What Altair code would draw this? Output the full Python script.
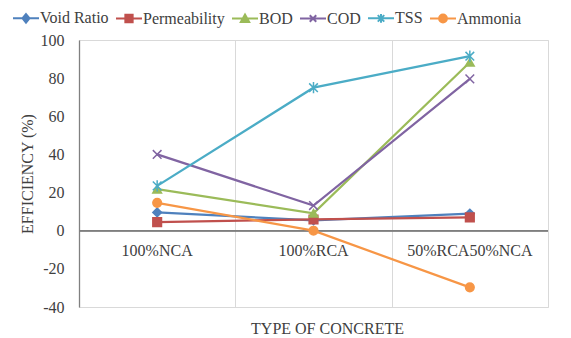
import altair as alt
import pandas as pd

categories = ["100%NCA", "100%RCA", "50%RCA50%NCA"]
series = ["Void Ratio", "Permeability", "BOD", "COD", "TSS", "Ammonia"]
void_ratio = [9.6, 5.4, 9.0]
permeability = [4.5, 5.9, 7.0]
bod = [21.8, 9.1, 88.3]
cod = [40.0, 13.2, 79.6]
tss = [23.5, 75.0, 91.5]
ammonia = [14.6, 0.0, -29.7]
y_ticks = [-40, -20, 0, 20, 40, 60, 80, 100]

colors = ["#4F81BD", "#C0504D", "#9BBB59", "#8064A2", "#4BACC6", "#F79646"]
shapes = [
    "M0,-1L1,0L0,1L-1,0Z",
    "square",
    "triangle-up",
    "M-1,-1L1,1M-1,1L1,-1",
    "M-1,-1L1,1M-1,1L1,-1M0,-1.3V1.3",
    "circle",
]
legend_paths = [
    "M-1,0H1M0,-0.33L0.27,0L0,0.33L-0.27,0Z",
    "M-1,0H1M-0.28,-0.28H0.28V0.28H-0.28Z",
    "M-1,0H1M0,-0.3L0.32,0.26H-0.32Z",
    "M-1,0H1M-0.25,-0.25L0.25,0.25M-0.25,0.25L0.25,-0.25",
    "M-1,0H1M-0.25,-0.25L0.25,0.25M-0.25,0.25L0.25,-0.25M0,-0.33V0.33",
    "M-1,0H1M-0.3,0A0.3,0.3 0 1,1 0.3,0A0.3,0.3 0 1,1 -0.3,0Z",
]

values = [void_ratio, permeability, bod, cod, tss, ammonia]
rows = []
for s, vals in zip(series, values):
    for c, v in zip(categories, vals):
        rows.append({"category": c, "series": s, "value": v})
df = pd.DataFrame(rows)
cat_df = pd.DataFrame({"category": categories})

FONT = "Liberation Serif"
TXT = "#404040"

x_scale = alt.Scale(type="band", domain=categories, paddingInner=0, paddingOuter=0)
y_scale = alt.Scale(domain=[-40, 100], nice=False, zero=False)

x_axis = alt.Axis(
    title="TYPE OF CONCRETE",
    grid=True,
    tickBand="extent",
    gridColor="#d9d9d9",
    gridWidth=1,
    labels=False,
    ticks=False,
    domain=False,
    titleFont=FONT,
    titleFontSize=16,
    titleFontWeight="normal",
    titleColor=TXT,
    titleX=248,
    titleY=21,
    titleAlign="center",
    titleBaseline="middle",
)
y_axis = alt.Axis(
    title="EFFICIENCY (%)",
    values=y_ticks,
    labelExpr="datum.value + ''",
    labelOverlap=False,
    labelBound=False,
    labelFlush=False,
    grid=False,
    ticks=False,
    domain=True,
    domainColor="#808080",
    domainWidth=1.3,
    labelPadding=15,
    labelFont=FONT,
    labelFontSize=16,
    labelColor=TXT,
    titleFont=FONT,
    titleFontSize=16,
    titleFontWeight="normal",
    titleColor=TXT,
    titleX=-52,
    titleAlign="center",
    titleBaseline="middle",
)
x_enc = alt.X("category:N", scale=x_scale, bandPosition=0.5, sort=categories, axis=x_axis)
y_enc = alt.Y("value:Q", scale=y_scale, axis=y_axis)

col_scale = alt.Scale(domain=series, range=colors)

zero_rule = alt.Chart(cat_df).mark_rule(color="#7f7f7f", strokeWidth=1.5).encode(
    y=alt.datum(0, scale=y_scale, axis=y_axis)
)

lines = alt.Chart(df).mark_line(strokeWidth=2.25).encode(
    x=x_enc,
    y=y_enc,
    color=alt.Color("series:N", scale=col_scale, legend=None),
    detail="series:N",
)

points = alt.Chart(df).mark_point(filled=True, size=75, strokeWidth=1.5, opacity=1).encode(
    x=x_enc,
    y=y_enc,
    color=alt.Color("series:N", scale=col_scale, legend=None),
    stroke=alt.Stroke("series:N", scale=col_scale, legend=None),
    shape=alt.Shape("series:N", scale=alt.Scale(domain=series, range=shapes), legend=None),
)

labels = alt.Chart(cat_df).mark_text(
    dy=20, font=FONT, fontSize=16, color=TXT, baseline="middle"
).encode(
    x=x_enc,
    y=alt.datum(0, scale=y_scale, axis=y_axis),
    text="category:N",
)

legend_props = dict(
    title=None,
    orient="none",
    direction="horizontal",
    legendX=-67,
    legendY=-36,
    symbolSize=676,
    symbolStrokeWidth=2,
    symbolOpacity=1,
    labelFont=FONT,
    labelFontSize=16,
    labelColor=TXT,
    labelOffset=0,
    columnPadding=3,
)

legend_layer = alt.Chart(df).transform_filter("false").mark_point(filled=True, strokeWidth=2).encode(
    color=alt.Color("series:N", scale=col_scale, sort=series, legend=alt.Legend(**legend_props)),
    stroke=alt.Stroke("series:N", scale=col_scale, sort=series, legend=alt.Legend(**legend_props)),
    shape=alt.Shape("series:N", scale=alt.Scale(domain=series, range=legend_paths), sort=series,
                    legend=alt.Legend(**legend_props)),
)

chart = alt.layer(zero_rule, lines, points, labels, legend_layer).resolve_scale(
    color="independent", stroke="independent", shape="independent"
).properties(
    width=469,
    height=267,
    padding={"left": 79, "top": 40, "right": 23, "bottom": 31},
    autosize=alt.AutoSizeParams(type="none"),
).configure(background="white", font=FONT).configure_view(
    stroke="#d9d9d9", strokeWidth=1
).configure_axisY(labelOverlap=False).configure_legend(
    labelFont=FONT, labelFontSize=16, labelColor=TXT
).configure_text(font=FONT)

chart.save("out.html", embed_options={"renderer": "svg", "actions": False})
